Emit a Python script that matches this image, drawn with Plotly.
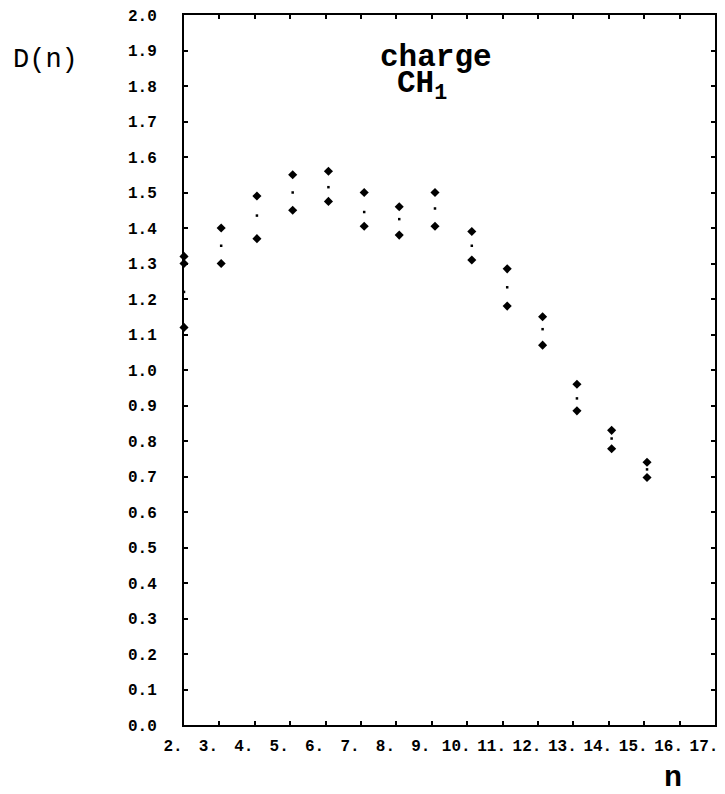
import plotly.graph_objects as go

# data
n_vals = [2.0, 3.05, 4.06, 5.07, 6.08, 7.09, 8.08, 9.09, 10.13, 11.13, 12.13, 13.10, 14.08, 15.08]
d_upper = [1.32, 1.40, 1.49, 1.55, 1.56, 1.50, 1.46, 1.50, 1.39, 1.285, 1.15, 0.96, 0.83, 0.74]
d_mid = [1.22, 1.35, 1.435, 1.50, 1.515, 1.445, 1.425, 1.455, 1.35, 1.233, 1.115, 0.92, 0.807, 0.72]
d_lower = [1.12, 1.30, 1.37, 1.45, 1.475, 1.405, 1.38, 1.405, 1.31, 1.18, 1.07, 0.885, 0.778, 0.697]
extra_n = [2.0]
extra_d = [1.30]

x_ticks = list(range(2, 18))
x_labels = [f"{v}." for v in x_ticks]
y_ticks = [i / 10 for i in range(0, 21)]
y_labels = [f"{v:.1f}" for v in y_ticks]

mono = "Liberation Mono"

fig = go.Figure()

# upper and lower limits
for xs, ys in ((n_vals, d_upper), (n_vals, d_lower), (extra_n, extra_d)):
    fig.add_trace(go.Scatter(
        x=xs, y=ys, mode="markers",
        marker=dict(symbol="diamond", size=7, color="black"),
        showlegend=False, cliponaxis=False,
    ))

# central value
fig.add_trace(go.Scatter(
    x=n_vals, y=d_mid, mode="markers",
    marker=dict(symbol="square", size=2.5, color="black"),
    showlegend=False, cliponaxis=False,
))

axis_common = dict(
    showline=True, linecolor="black", linewidth=2, mirror="ticks",
    ticks="inside", ticklen=4, tickwidth=1.5, tickcolor="black",
    showgrid=False, zeroline=False, automargin=False,
    ticklabeloverflow="allow",
    tickfont=dict(family=mono, size=16, color="black", weight="bold"),
)

fig.update_xaxes(range=[2, 17], tickvals=x_ticks, ticktext=x_labels,
                 ticklabelshift=-11, ticklabelstandoff=5, **axis_common)
fig.update_yaxes(range=[0, 2], tickvals=y_ticks, ticktext=y_labels,
                 ticklabelstandoff=22, **axis_common)

fig.add_annotation(x=9.12, y=1.88, xref="x", yref="y", text="charge",
                   showarrow=False, font=dict(family=mono, size=31, color="black", weight="bold"))
fig.add_annotation(x=7.95, y=1.80, xref="x", yref="y", xanchor="left", text="CH<sub>1</sub>",
                   showarrow=False, font=dict(family=mono, size=31, color="black", weight="bold"))
fig.add_annotation(x=-0.26, y=0.937, xref="paper", yref="paper", xanchor="center", yanchor="middle",
                   text="D(n)", showarrow=False, font=dict(family=mono, size=27, color="black"))
fig.add_annotation(x=0.921, y=-0.075, xref="paper", yref="paper", xanchor="center", yanchor="middle",
                   text="n", showarrow=False, font=dict(family=mono, size=30, color="black", weight="bold"))

# page body adds an 8px offset, so the figure is 8px smaller than the window
fig.update_layout(
    width=717, height=786,
    margin=dict(l=176, r=10, t=7, b=69),
    plot_bgcolor="white", paper_bgcolor="white",
)

fig.write_html("out.html")
